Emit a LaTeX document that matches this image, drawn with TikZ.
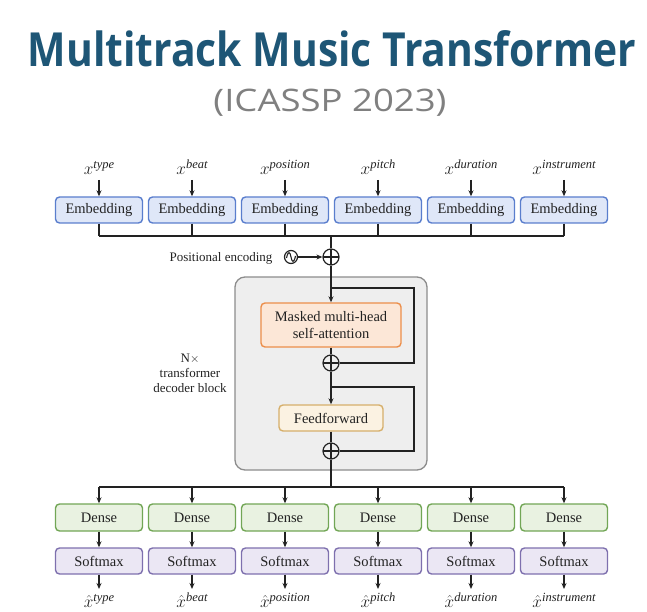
\documentclass[tikz,border=0pt]{standalone}
\usepackage{fontspec}
\usepackage{graphicx}
\setmainfont{Liberation Serif}
\newfontfamily\titlefont{Open Sans}
\usetikzlibrary{arrows.meta}
\definecolor{titleblue}{HTML}{1E5676}
\definecolor{subgray}{HTML}{808080}
\definecolor{embfill}{HTML}{DFE7F8}
\definecolor{embdraw}{HTML}{5A7ECD}
\definecolor{denfill}{HTML}{E9F2E1}
\definecolor{dendraw}{HTML}{72A656}
\definecolor{softfill}{HTML}{EBE7F4}
\definecolor{softdraw}{HTML}{7E70AE}
\definecolor{mhafill}{HTML}{FCE7D7}
\definecolor{mhadraw}{HTML}{EC8E4A}
\definecolor{fffill}{HTML}{FBF2E2}
\definecolor{ffdraw}{HTML}{D6AF6B}
\definecolor{blkfill}{HTML}{EEEEEE}
\definecolor{blkdraw}{HTML}{8C8C8C}
\definecolor{linec}{HTML}{222222}
\newcommand{\inlbl}[1]{{\fontsize{17}{18}\selectfont$x$}\raisebox{6pt}{\fontsize{12.5}{14}\selectfont\itshape #1}}
\newcommand{\outlbl}[1]{{\fontsize{17}{18}\selectfont$\hat{x}$}\raisebox{6pt}{\fontsize{12.5}{14}\selectfont\itshape #1}}
\tikzset{
  boxbase/.style={draw, line width=1.4pt, rounded corners=4pt, minimum height=26pt, inner sep=0pt, font=\fontsize{14.5}{16}\selectfont, text=linec},
  embbox/.style={boxbase, fill=embfill, draw=embdraw, minimum width=87pt},
  denbox/.style={boxbase, fill=denfill, draw=dendraw, minimum width=87pt, minimum height=27pt},
  softbox/.style={boxbase, fill=softfill, draw=softdraw, minimum width=87pt},
  mhabox/.style={boxbase, fill=mhafill, draw=mhadraw, minimum width=140pt, minimum height=44pt, align=center, font=\fontsize{14.5}{17}\selectfont},
  ffbox/.style={boxbase, fill=fffill, draw=ffdraw, minimum width=104pt},
  blockbox/.style={draw=blkdraw, fill=blkfill, line width=1.3pt, rounded corners=10pt},
  conn/.style={draw=linec, line width=1.2pt},
  arr/.style={conn, -{Stealth[length=6pt,width=5pt]}},
  plusnode/.style={circle, draw=linec, line width=1.2pt, minimum size=16pt, inner sep=0pt, path picture={
      \draw[linec, line width=1.1pt] (path picture bounding box.north) -- (path picture bounding box.south)
        (path picture bounding box.west) -- (path picture bounding box.east);}},
  sinenode/.style={circle, draw=linec, line width=1.2pt, minimum size=13pt, inner sep=0pt},
  mathlbl/.style={text=linec, inner sep=0pt, anchor=base},
  sidetext/.style={font=\fontsize{13}{15}\selectfont, text=linec, align=center}
}
\begin{document}
\begin{tikzpicture}[x=1pt,y=-1pt]
\useasboundingbox (0,0) rectangle (647,612);
% titles
\node[anchor=base, text=titleblue, inner sep=0pt] (title) at (332,67)
  {\resizebox{608pt}{\height}{\titlefont\bfseries\fontsize{47}{50}\selectfont Multitrack Music Transformer}};
\node[anchor=base, text=subgray, inner sep=0pt] (subtitle) at (330,112)
  {\resizebox{233pt}{\height}{\titlefont\fontsize{31}{34}\selectfont (ICASSP 2023)}};

% decoder block background
\node[blockbox, minimum width=192pt, minimum height=193pt] (block) at (331,373.5) {};

% inputs and embeddings
\foreach \i/\x/\s in {1/99/type,2/192/beat,3/285/position,4/378/pitch,5/471/duration,6/564/instrument}{
  \node[mathlbl] (in\i) at (\x,175) {\inlbl{\s}};
  \coordinate (ia\i) at (\x,180);
  \node[embbox] (e\i) at (\x,210) {Embedding};
  \draw[arr] (ia\i) -- (e\i.north);
  \coordinate (bt\i) at (\x,236);
  \draw[conn] (e\i.south) -- (bt\i);
}
\draw[conn] (bt1) -- (bt6);

% positional encoding
\coordinate (bm) at (331,236);
\node[plusnode] (p0) at (331,257) {};
\node[sinenode] (sine) at (291,257) {};
\draw[linec, line width=1.1pt] (286.5,258) .. controls (288,251) and (290,251) .. (291,257) .. controls (292,263) and (294,263) .. (295.5,256);
\node[sidetext, anchor=base east] (pe) at (276,261) {Positional encoding};
\draw[arr] (sine.east) -- (p0.west);
\draw[conn] (bm) -- (p0.north);

% decoder internals
\node[mhabox] (mha) at (331,325) {Masked multi-head\\self-attention};
\node[plusnode] (a1) at (331,363) {};
\node[ffbox] (ff) at (331,418) {Feedforward};
\node[plusnode] (a2) at (331,451) {};
\coordinate (r1s) at (331,288);
\coordinate (r1a) at (414,288);
\coordinate (r1b) at (414,363);
\coordinate (r2s) at (331,387);
\coordinate (r2a) at (414,387);
\coordinate (r2b) at (414,451);
\draw[arr] (p0.south) -- (mha.north);
\draw[conn] (r1s) -- (r1a) -- (r1b) -- (a1.east);
\draw[conn] (mha.south) -- (a1.north);
\draw[arr] (a1.south) -- (ff.north);
\draw[conn] (r2s) -- (r2a) -- (r2b) -- (a2.east);
\draw[conn] (ff.south) -- (a2.north);

\node[sidetext] (nx) at (190,373) {N$\times$\\transformer\\decoder block};

% outputs
\coordinate (bb) at (331,487);
\draw[conn] (a2.south) -- (bb);
\foreach \i/\x/\s in {1/99/type,2/192/beat,3/285/position,4/378/pitch,5/471/duration,6/564/instrument}{
  \coordinate (bo\i) at (\x,487);
  \node[denbox] (d\i) at (\x,517.5) {Dense};
  \node[softbox] (s\i) at (\x,561) {Softmax};
  \node[mathlbl] (out\i) at (\x,607) {\outlbl{\s}};
  \coordinate (oa\i) at (\x,589);
  \draw[arr] (bo\i) -- (d\i.north);
  \draw[arr] (d\i.south) -- (s\i.north);
  \draw[arr] (s\i.south) -- (oa\i);
}
\draw[conn] (bo1) -- (bo6);
\end{tikzpicture}
\end{document}
